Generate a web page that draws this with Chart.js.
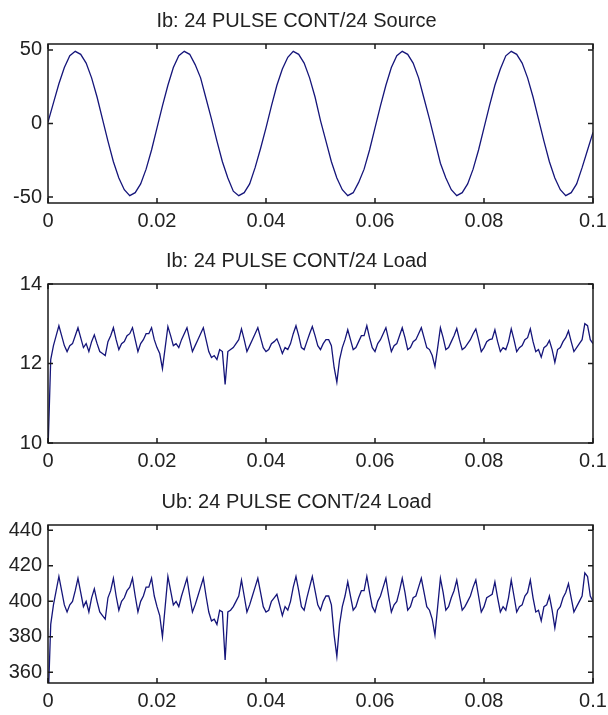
<!DOCTYPE html>
<html><head><meta charset="utf-8">
<script src="https://cdn.jsdelivr.net/npm/chart.js@4"></script>
<style>
html,body{margin:0;padding:0;background:#fff;width:608px;height:715px;overflow:hidden;}
canvas{position:absolute;left:0;}
</style></head><body>
<canvas id="c1" width="608" height="240" style="top:0px"></canvas>
<canvas id="c2" width="608" height="240" style="top:240px"></canvas>
<canvas id="c3" width="608" height="234" style="top:481px"></canvas>
<script>
// ---- data ----
const titles = ['Ib: 24 PULSE CONT/24 Source', 'Ib: 24 PULSE CONT/24 Load', 'Ub: 24 PULSE CONT/24 Load'];
const xTickValues = [0, 0.02, 0.04, 0.06, 0.08, 0.1];
const xTickLabels = ['0', '0.02', '0.04', '0.06', '0.08', '0.1'];
const sourceTicks = [-50, 0, 50];
const currentTicks = [10, 12, 14];
const voltageTicks = [360, 380, 400, 420, 440];
const sourceStep = 0.001;   // s between samples
const loadStep = 0.0005;    // s between samples

const sourceCurrent = [
  1, 14, 27, 38, 46, 49, 47, 41, 31, 18, 3, -12, -26, -37, -45, -49, -47, -41, -31, -18,
  -3, 12, 26, 38, 46, 49, 47, 40, 31, 17, 3, -12, -26, -37, -46, -49, -47, -41, -30, -17,
  -3, 12, 26, 37, 45, 49, 47, 41, 31, 18, 2, -12, -26, -37, -45, -49, -47, -40, -31, -18,
  -3, 12, 26, 38, 46, 49, 47, 41, 31, 17, 3, -12, -27, -37, -45, -49, -47, -41, -31, -18,
  -3, 12, 26, 37, 46, 49, 47, 41, 31, 18, 3, -12, -26, -37, -45, -49, -47, -41, -30, -18,
  -6
];

const loadCurrent = [
  9.8, 12.1, 12.45, 12.7, 12.95, 12.7, 12.45, 12.3, 12.45, 12.5,
  12.7, 12.9, 12.65, 12.4, 12.5, 12.3, 12.55, 12.72, 12.5, 12.3,
  12.25, 12.2, 12.55, 12.7, 12.9, 12.6, 12.35, 12.5, 12.55, 12.7,
  12.75, 12.9, 12.6, 12.3, 12.5, 12.6, 12.75, 12.75, 12.9, 12.6,
  12.4, 12.25, 11.87, 12.4, 12.93, 12.7, 12.45, 12.5, 12.4, 12.6,
  12.75, 12.9, 12.6, 12.3, 12.45, 12.6, 12.75, 12.9, 12.6, 12.3,
  12.15, 12.2, 12.1, 12.35, 12.3, 11.47, 12.3, 12.35, 12.4, 12.5,
  12.6, 12.87, 12.6, 12.3, 12.45, 12.6, 12.75, 12.9, 12.65, 12.4,
  12.3, 12.35, 12.5, 12.55, 12.62, 12.45, 12.25, 12.4, 12.35, 12.5,
  12.75, 12.95, 12.7, 12.4, 12.35, 12.55, 12.75, 12.93, 12.7, 12.45,
  12.35, 12.5, 12.6, 12.6, 12.45, 11.9, 11.53, 12.1, 12.4, 12.6,
  12.85, 12.6, 12.35, 12.4, 12.55, 12.7, 12.7, 12.95, 12.65, 12.4,
  12.3, 12.5, 12.6, 12.75, 12.9, 12.6, 12.3, 12.45, 12.5, 12.7,
  12.9, 12.65, 12.35, 12.4, 12.55, 12.6, 12.75, 12.9, 12.65, 12.4,
  12.35, 12.2, 11.92, 12.4, 12.9, 12.65, 12.35, 12.4, 12.55, 12.7,
  12.88, 12.6, 12.35, 12.4, 12.5, 12.6, 12.75, 12.87, 12.6, 12.3,
  12.4, 12.55, 12.6, 12.62, 12.85, 12.55, 12.3, 12.4, 12.35, 12.55,
  12.87, 12.6, 12.3, 12.4, 12.45, 12.6, 12.65, 12.87, 12.55, 12.3,
  12.35, 12.16, 12.4, 12.45, 12.58, 12.35, 12.03, 12.35, 12.4, 12.55,
  12.65, 12.82, 12.55, 12.3, 12.4, 12.5, 12.6, 13.0, 12.95, 12.6,
  12.5
];

const loadVoltage = [
  340, 387, 398, 406, 414, 406, 398, 394, 398, 400,
  406, 413, 405, 397, 400, 394, 402, 407, 400, 394,
  392, 390, 402, 406, 413, 403, 395, 400, 402, 406,
  408, 413, 403, 394, 400, 403, 408, 408, 413, 403,
  397, 392, 380, 397, 414, 406, 398, 400, 397, 403,
  408, 413, 403, 394, 398, 403, 408, 413, 403, 394,
  389, 390, 387, 395, 394, 367, 394, 395, 397, 400,
  403, 412, 403, 394, 398, 403, 408, 413, 405, 397,
  394, 395, 400, 402, 404, 398, 392, 397, 395, 400,
  408, 414, 406, 397, 395, 402, 408, 414, 406, 398,
  395, 400, 403, 403, 398, 381, 369, 387, 397, 403,
  411, 403, 395, 397, 402, 406, 406, 414, 405, 397,
  394, 400, 403, 408, 413, 403, 394, 398, 400, 406,
  413, 405, 395, 397, 402, 403, 408, 413, 405, 397,
  395, 390, 381, 397, 413, 405, 395, 397, 402, 406,
  412, 403, 395, 397, 400, 403, 408, 412, 403, 394,
  397, 402, 403, 404, 411, 402, 394, 397, 395, 402,
  412, 403, 394, 397, 398, 403, 405, 412, 402, 394,
  395, 389, 397, 398, 403, 395, 385, 395, 397, 402,
  405, 410, 402, 394, 397, 400, 403, 416, 414, 403,
  400
];

// ---- drawing ----
const FONT = '"Liberation Sans", Arial, Helvetica, sans-serif';
const TEXT = '#222';
const LINE = '#15157a';

const boxTicks = {
  id: 'boxTicks',
  afterDraw(chart) {
    const { ctx, chartArea: a, scales: { x, y } } = chart;
    ctx.save();
    ctx.strokeStyle = '#1a1a1a';
    ctx.lineWidth = 1.5;
    ctx.strokeRect(a.left, a.top, a.right - a.left, a.bottom - a.top);
    const L = 5;
    ctx.beginPath();
    x.ticks.forEach(t => {
      const px = x.getPixelForValue(t.value);
      ctx.moveTo(px, a.bottom); ctx.lineTo(px, a.bottom - L);
      ctx.moveTo(px, a.top); ctx.lineTo(px, a.top + L);
    });
    y.ticks.forEach(t => {
      const py = y.getPixelForValue(t.value);
      ctx.moveTo(a.left, py); ctx.lineTo(a.left + L, py);
      ctx.moveTo(a.right, py); ctx.lineTo(a.right - L, py);
    });
    ctx.stroke();
    ctx.restore();
  }
};

function makeChart(id, title, values, step, yMin, yMax, yTicks, xHeight) {
  const pts = values.map((v, i) => ({ x: i * step, y: v }));
  return new Chart(document.getElementById(id), {
    type: 'line',
    data: { datasets: [{ data: pts, borderColor: LINE, borderWidth: 1.3, pointRadius: 0, tension: 0, fill: false }] },
    options: {
      responsive: false, animation: false, devicePixelRatio: 1,
      layout: { padding: { left: 0, right: 15, top: 0, bottom: 0 } },
      plugins: {
        legend: { display: false }, tooltip: { enabled: false },
        title: { display: true, text: title, color: TEXT, font: { family: FONT, size: 20, weight: 'normal' }, padding: { top: 9, bottom: 11 } }
      },
      scales: {
        x: {
          type: 'linear', min: 0, max: 0.1,
          grid: { display: false, drawTicks: false }, border: { display: false },
          afterBuildTicks: s => { s.ticks = xTickValues.map(v => ({ value: v })); },
          afterFit: s => { s.height = xHeight; s.paddingLeft = 0; s.paddingRight = 0; },
          ticks: { color: TEXT, font: { family: FONT, size: 20 }, padding: 6, maxRotation: 0, autoSkip: false,
                   callback: (v, i) => xTickLabels[i] }
        },
        y: {
          type: 'linear', min: yMin, max: yMax,
          grid: { display: false, drawTicks: false }, border: { display: false },
          afterBuildTicks: s => { s.ticks = yTicks.map(v => ({ value: v })); },
          afterFit: s => { s.width = 48; s.paddingTop = 0; s.paddingBottom = 0; },
          ticks: { color: TEXT, font: { family: FONT, size: 20 }, padding: 6, autoSkip: false,
                   callback: (v, i) => String(yTicks[i]) }
        }
      }
    },
    plugins: [boxTicks]
  });
}

makeChart('c1', titles[0], sourceCurrent, sourceStep, -54, 54, sourceTicks, 37);
makeChart('c2', titles[1], loadCurrent, loadStep, 10, 14, currentTicks, 37);
makeChart('c3', titles[2], loadVoltage, loadStep, 354, 443, voltageTicks, 32);
</script>
</body></html>
